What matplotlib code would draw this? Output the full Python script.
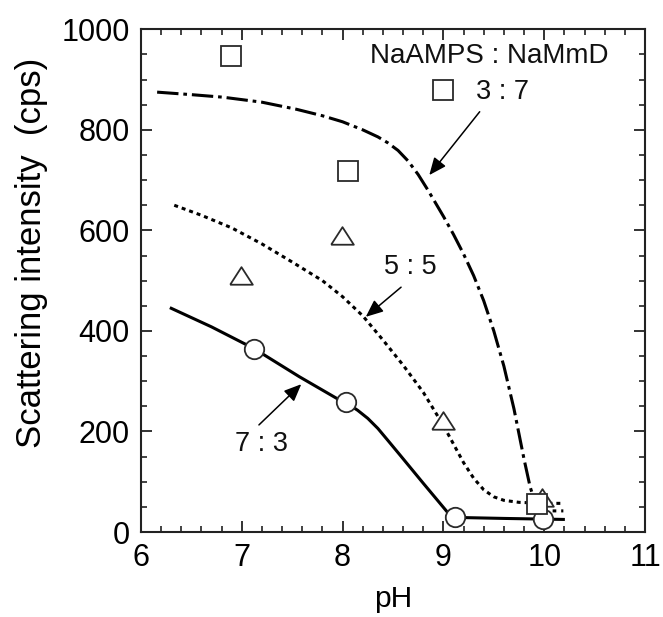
import matplotlib
matplotlib.use("Agg")
import matplotlib.pyplot as plt
from matplotlib.ticker import MultipleLocator

plt.rcParams['font.family'] = ['Liberation Sans', 'DejaVu Sans']

# ---- measured data points ----
sq_x = [6.89, 9.00, 8.05, 9.93]
sq_y = [947, 880, 718, 56]

tri_x = [6.99, 7.99, 9.00, 9.98]
tri_y = [505, 585, 216, 64]

cir_x = [7.12, 8.03, 9.12, 9.99]
cir_y = [365, 258, 29, 25]

# ---- guide curves ----
c37_x = [6.16, 6.50, 6.81, 7.20, 7.54, 7.80, 8.00, 8.20, 8.35, 8.45, 8.55, 8.65, 8.75, 8.85,
         9.00, 9.10, 9.20, 9.30, 9.40, 9.50, 9.60, 9.70, 9.80, 9.86, 9.90, 10.02, 10.19]
c37_y = [875, 870, 865, 855, 841, 828, 816, 800, 786, 774, 759, 738, 711, 679,
         628, 592, 553, 510, 460, 400, 330, 245, 145, 90, 65, 42, 42]

c55_x = [6.33, 6.60, 6.90, 7.20, 7.50, 7.80, 8.00, 8.20, 8.40, 8.60, 8.80, 9.00, 9.10, 9.20,
         9.30, 9.40, 9.50, 9.60, 9.75, 10.00, 10.16]
c55_y = [650, 630, 605, 573, 537, 500, 468, 430, 382, 332, 278, 212, 175, 138,
         107, 84, 70, 63, 59, 57, 57]

c73_x = [6.30, 6.70, 7.12, 7.57, 7.94, 8.03, 8.15, 8.25, 8.35, 8.45, 8.57, 8.80, 9.05, 9.12, 9.60, 10.19]
c73_y = [445, 408, 365, 309, 266, 258, 242, 226, 206, 182, 153, 97, 37, 29, 27, 25]

# annotations: (label, text x, text y, arrow tail, arrow head)
ratio_labels = ["3 : 7", "5 : 5", "7 : 3"]
label_pos = [(9.59, 876), (8.67, 527), (7.20, 176)]
arrow_tail = [(9.36, 836), (8.58, 487), (7.17, 213)]
arrow_head = [(8.86, 710), (8.23, 428), (7.59, 294)]

title_text = "NaAMPS : NaMmD"
title_pos = (9.45, 946)

x_ticks = [6, 7, 8, 9, 10, 11]
y_ticks = [0, 200, 400, 600, 800, 1000]

fig = plt.figure(figsize=(6.63, 6.17), dpi=100)
ax = fig.add_axes([141/663, 1 - 532/617, (645 - 141)/663, (532 - 29.3)/617])

lw = 2.2
ax.plot(c37_x, c37_y, color='black', lw=lw, ls=(0, (7, 1.6, 1.2, 1.6)), zorder=2)
ax.plot(c55_x, c55_y, color='black', lw=lw, ls=(0, (1.3, 1.3)), zorder=2)
ax.plot(c73_x, c73_y, color='black', lw=lw, ls='-', zorder=2)

tri_marker = [(-1, -0.55), (1, -0.55), (0, 1.0), (-1, -0.55)]
mec = '#2a2a2a'
ax.plot(cir_x, cir_y, ls='none', marker='o', ms=14, mfc='white', mec=mec, mew=1.3, zorder=3)
ax.plot(tri_x, tri_y, ls='none', marker=tri_marker, ms=16.3, mfc='white', mec=mec, mew=1.3, zorder=3)
ax.plot(sq_x, sq_y, ls='none', marker='s', ms=13.9, mfc='white', mec=mec, mew=1.3, zorder=4)

for lab, (tx, ty), tail, head in zip(ratio_labels, label_pos, arrow_tail, arrow_head):
    ax.text(tx, ty, lab, fontsize=19.5, ha='center', va='center', color='#111')
    ax.annotate('', xy=head, xytext=tail,
                arrowprops=dict(arrowstyle='-|>,head_length=0.7,head_width=0.3',
                                mutation_scale=15, lw=1.1, color='black',
                                shrinkA=0, shrinkB=0))

ax.text(title_pos[0], title_pos[1], title_text, fontsize=20, ha='center', va='center', color='#111')

ax.set_xlim(6, 11)
ax.set_ylim(0, 1000)
ax.set_xticks(x_ticks)
ax.set_yticks(y_ticks)
ax.xaxis.set_minor_locator(MultipleLocator(0.2))
ax.yaxis.set_minor_locator(MultipleLocator(50))
ax.tick_params(which='both', direction='in', top=True, right=True, color='#222')
ax.tick_params(which='major', length=8, width=1.3, labelsize=22, pad=8)
ax.tick_params(which='minor', length=4, width=1.2)
for s in ax.spines.values():
    s.set_linewidth(1.5)
    s.set_color('#222')

ax.set_xlabel('pH', fontsize=21.5)
ax.set_ylabel('Scattering intensity  (cps)', fontsize=25)
ax.xaxis.set_label_coords(0.5, -0.105)
ax.yaxis.set_label_coords(-0.185, 0.555)

fig.savefig('out.png', dpi=100)
